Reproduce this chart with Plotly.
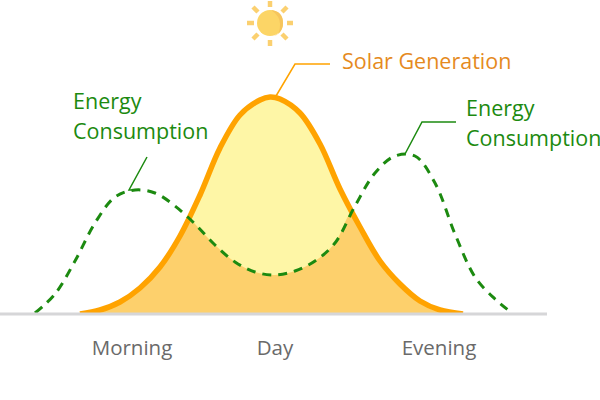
import plotly.graph_objects as go

solar_x = [80, 100, 120, 140, 160, 180, 200, 220, 240, 260, 270, 280, 300, 320, 340, 360, 380, 400, 420, 440, 463]
solar_y = [0, 4, 12, 26, 47, 78, 119, 166, 199, 214, 217, 215, 201, 170, 125, 87, 53, 30, 13, 4, 0]

energy_x = [35, 55, 75, 95, 115, 135, 155, 175, 195, 215, 235, 255, 275, 295, 315, 335, 355, 375, 395, 415, 435, 455, 475, 495, 512]
energy_y = [1, 20, 53, 91, 117, 124, 121, 108, 90, 69, 52, 42, 39, 43, 53, 71, 108, 141, 158, 158, 131, 80, 37, 15, 1]

# Where the two curves cross
cross_x = [190, 352]
cross_y = [96, 102]

tick_x = [132, 275, 439]
tick_labels = ["Morning", "Day", "Evening"]

GREEN = "#1c8a10"
ORANGE = "#ffa300"

# Overlap area: under the solar curve on the sides, under the consumption in the middle
overlap = [(x, y) for x, y in zip(solar_x, solar_y) if x < cross_x[0]]
overlap += [(cross_x[0], cross_y[0])]
overlap += [(x, y) for x, y in zip(energy_x, energy_y) if cross_x[0] < x < cross_x[1]]
overlap += [(cross_x[1], cross_y[1])]
overlap += [(x, y) for x, y in zip(solar_x, solar_y) if x > cross_x[1]]
overlap_x = [p[0] for p in overlap]
overlap_y = [p[1] for p in overlap]

fig = go.Figure()

fig.add_trace(go.Scatter(x=solar_x, y=solar_y, mode="lines", fill="tozeroy",
                         fillcolor="#fef6a6", line=dict(color="rgba(0,0,0,0)", width=0, shape="spline")))
fig.add_trace(go.Scatter(x=overlap_x, y=overlap_y, mode="lines", fill="tozeroy",
                         fillcolor="#fdd06c", line=dict(color="rgba(0,0,0,0)", width=0, shape="spline")))
fig.add_trace(go.Scatter(x=solar_x, y=solar_y, mode="lines",
                         line=dict(color=ORANGE, width=5.5, shape="spline")))
fig.add_trace(go.Scatter(x=energy_x, y=energy_y, mode="lines",
                         line=dict(color=GREEN, width=3, shape="spline", dash="9px,7px")))

# White strip hides the stroke below the baseline
fig.add_trace(go.Scatter(x=[0, 600], y=[-4, -4], mode="lines", fill="tozeroy", fillcolor="white", line=dict(width=0)))
# Baseline
fig.add_trace(go.Scatter(x=[0, 547], y=[0, 0], mode="lines", line=dict(color="#d6d6d8", width=3)))

# Leader lines
fig.add_trace(go.Scatter(x=[276, 295, 330], y=[218, 250, 250], mode="lines", line=dict(color=ORANGE, width=1.5)))
fig.add_trace(go.Scatter(x=[405, 422, 456], y=[160, 192, 192], mode="lines", line=dict(color=GREEN, width=1.5)))
fig.add_trace(go.Scatter(x=[140, 129, 147], y=[124, 124, 157], mode="lines", line=dict(color=GREEN, width=1.5)))

# Sun
sun_x, sun_y, sun_r = 270, 291, 13
shapes = [
    dict(type="circle", x0=sun_x - sun_r, x1=sun_x + sun_r, y0=sun_y - sun_r, y1=sun_y + sun_r,
         fillcolor="#fcd566", line=dict(width=0)),
    dict(type="path", path="M 271 278 Q 283 279 283 291 Q 283 303 271 304 Q 280 298 280 290 Q 280 282 277 279 Z",
         fillcolor="#f6c55c", line=dict(width=0)),
]
rays = [(270, 307, 270, 313), (270, 268, 270, 274), (247, 291, 254, 291), (287, 291, 293, 291),
        (253, 307, 258, 302), (282, 280, 287, 275), (253, 275, 258, 280), (282, 302, 287, 307)]
for x0, y0, x1, y1 in rays:
    shapes.append(dict(type="line", x0=x0, y0=y0, x1=x1, y1=y1, line=dict(color="#fbd070", width=4.5)))

labels = [
    ("Solar Generation", 340, 254, "#e58a1e"),
    ("Energy", 71, 214, GREEN),
    ("Consumption", 71, 184, GREEN),
    ("Energy", 464, 207, GREEN),
    ("Consumption", 464, 177, GREEN),
]
annotations = [
    dict(text=t, x=x, y=y, xref="x", yref="y", xanchor="left", yanchor="middle", showarrow=False,
         font=dict(family="Open Sans", size=21.5, color=c))
    for t, x, y, c in labels
]

fig.update_layout(
    width=600, height=400,
    margin=dict(l=0, r=0, t=0, b=0),
    paper_bgcolor="white", plot_bgcolor="white",
    showlegend=False,
    shapes=shapes,
    annotations=annotations,
    xaxis=dict(range=[0, 600], anchor="free", position=86 / 400, showgrid=False, zeroline=False,
               showline=False, tickmode="array", tickvals=tick_x, ticktext=tick_labels,
               ticks="outside", ticklen=15, tickcolor="rgba(0,0,0,0)",
               tickfont=dict(family="Open Sans", size=20.5, color="#6a6a6a")),
    yaxis=dict(range=[-86, 314], visible=False),
)

# Page margin would push the chart off the 600x400 window
fig.write_html("out.html", config=dict(displayModeBar=False),
               post_script="document.body.style.margin='0';")
